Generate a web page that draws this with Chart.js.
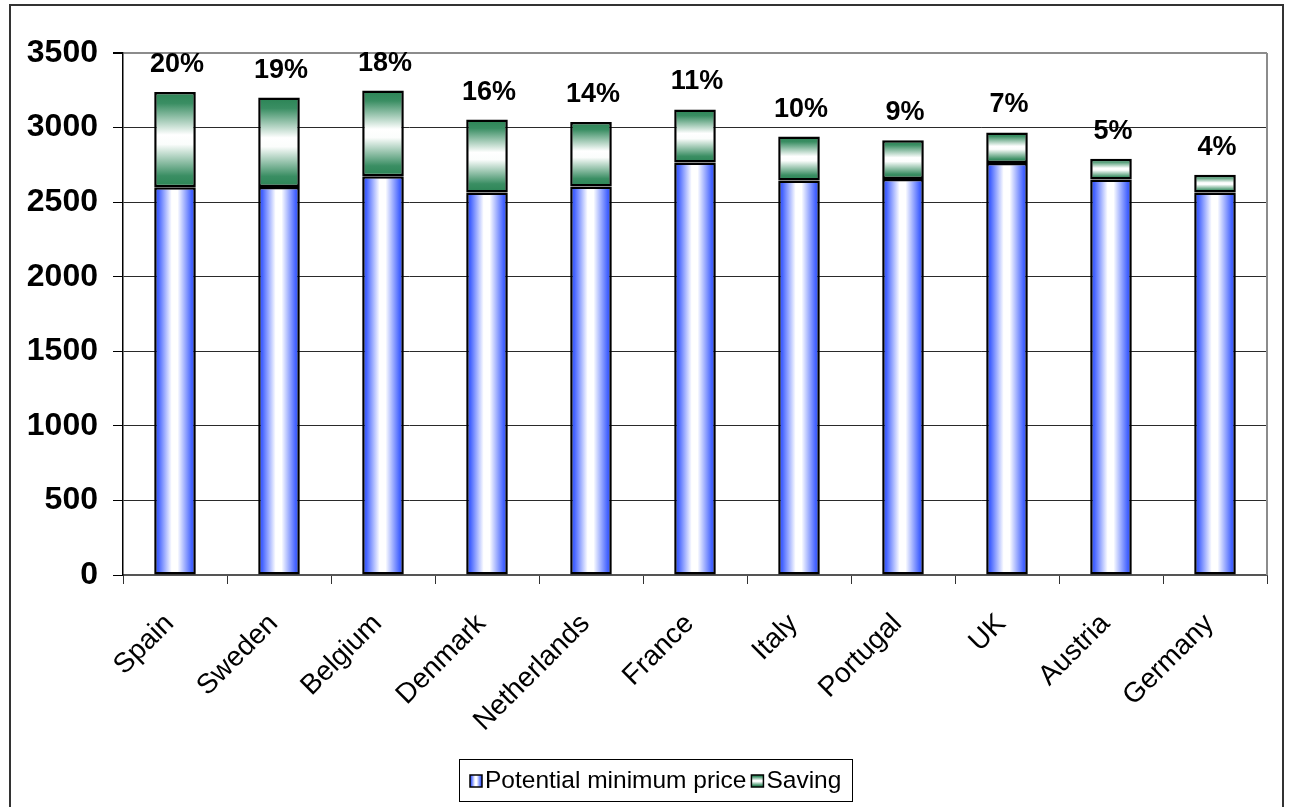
<!DOCTYPE html>
<html>
<head>
<meta charset="utf-8">
<script src="https://cdn.jsdelivr.net/npm/chart.js@4/dist/chart.umd.min.js"></script>
<style>
  html, body { margin: 0; padding: 0; background: #fff; }
  canvas { display: block; }
</style>
</head>
<body>
<canvas id="chart" width="1290" height="807"></canvas>
<script>
// Countries along the x axis
const countries = ['Spain', 'Sweden', 'Belgium', 'Denmark', 'Netherlands', 'France', 'Italy', 'Portugal', 'UK', 'Austria', 'Germany'];
// Lower stack: potential minimum price
const minimumPrice = [2600, 2602, 2674, 2564, 2605, 2765, 2645, 2656, 2763, 2652, 2565];
// Upper stack: saving on top of the minimum price
const saving = [639, 599, 574, 490, 433, 357, 295, 259, 204, 139, 118];
// Value axis range and step
const yMin = 0;
const yMax = 3500;
const yStep = 500;
const seriesNames = ['Potential minimum price', 'Saving'];

const FONT = "'Liberation Sans', Arial, sans-serif";
const BLUE = '#2f50ff';
const GREEN = '#2b8455';

// Saving as a share of the full price, rounded to whole percent
const savingShare = saving.map((s, i) => Math.round(s / (minimumPrice[i] + s) * 100) + '%');

function blueGradient(ctx, x0, x1) {
  const g = ctx.createLinearGradient(x0, 0, x1, 0);
  g.addColorStop(0, BLUE);
  g.addColorStop(0.1, '#4463ff');
  g.addColorStop(0.42, '#ffffff');
  g.addColorStop(0.56, '#ffffff');
  g.addColorStop(0.9, '#4463ff');
  g.addColorStop(1, BLUE);
  return g;
}

function greenGradient(ctx, y0, y1) {
  const g = ctx.createLinearGradient(0, y0, 0, y1);
  g.addColorStop(0, GREEN);
  g.addColorStop(0.12, '#3a8e63');
  g.addColorStop(0.45, '#ffffff');
  g.addColorStop(0.55, '#fbfdfc');
  g.addColorStop(0.88, '#3a8e63');
  g.addColorStop(1, GREEN);
  return g;
}

const BAR_SHARE = 0.4;

function barHalfWidth(chart) {
  const xs = chart.scales.x;
  return xs.width / countries.length * BAR_SHARE / 2;
}

// White page, outer frame and the right frame of the plot area
const framePlugin = {
  id: 'frame',
  beforeDraw(chart) {
    const ctx = chart.ctx;
    ctx.save();
    ctx.fillStyle = '#ffffff';
    ctx.fillRect(0, 0, chart.width, chart.height);
    ctx.restore();
  },
  afterDraw(chart) {
    const ctx = chart.ctx;
    const a = chart.chartArea;
    ctx.save();
    ctx.strokeStyle = '#8c8c8c';
    ctx.lineWidth = 2;
    ctx.beginPath();
    ctx.moveTo(a.right, a.top);
    ctx.lineTo(a.right, a.bottom);
    ctx.stroke();
    ctx.strokeStyle = '#333333';
    ctx.lineWidth = 2;
    ctx.strokeRect(10, 5, 1273, 806);
    ctx.restore();
  }
};

// Percent labels above each stacked bar
const shareLabels = {
  id: 'shareLabels',
  afterDatasetsDraw(chart) {
    const ctx = chart.ctx;
    const meta = chart.getDatasetMeta(1);
    ctx.save();
    ctx.font = 'bold 27px ' + FONT;
    ctx.fillStyle = '#000';
    ctx.textAlign = 'center';
    ctx.textBaseline = 'alphabetic';
    meta.data.forEach((bar, i) => {
      ctx.fillText(savingShare[i], bar.x + 2, bar.y - 20);
    });
    ctx.restore();
  }
};

// Boxed legend under the axis labels
const boxedLegend = {
  id: 'boxedLegend',
  afterDraw(chart) {
    const ctx = chart.ctx;
    ctx.save();
    ctx.font = '24.5px ' + FONT;
    const box = { left: 459.5, top: 759.5, width: 393, height: 42 };
    const sq = 12;
    const gap = 3;
    const itemGap = 5;
    const widths = seriesNames.map(n => ctx.measureText(n).width);
    const content = widths.reduce((s, w) => s + sq + gap + w, 0) + itemGap;
    ctx.fillStyle = '#fff';
    ctx.fillRect(box.left, box.top, box.width, box.height);
    ctx.strokeStyle = '#000';
    ctx.lineWidth = 1;
    ctx.strokeRect(box.left, box.top, box.width, box.height);
    const midY = box.top + box.height / 2;
    let x = Math.round(box.left + (box.width - content) / 2);
    seriesNames.forEach((name, i) => {
      const sx = x, sy = Math.round(midY - sq / 2);
      ctx.fillStyle = i === 0 ? blueGradient(ctx, sx, sx + sq) : greenGradient(ctx, sy, sy + sq);
      ctx.fillRect(sx, sy, sq, sq);
      ctx.strokeStyle = '#000';
      ctx.lineWidth = 1.5;
      ctx.strokeRect(sx, sy, sq, sq);
      ctx.fillStyle = '#000';
      ctx.textAlign = 'left';
      ctx.textBaseline = 'middle';
      ctx.fillText(name, sx + sq + gap, midY + 1);
      x += sq + gap + widths[i] + itemGap;
    });
    ctx.restore();
  }
};

new Chart(document.getElementById('chart'), {
  type: 'bar',
  data: {
    labels: countries,
    datasets: [
      {
        label: seriesNames[0],
        data: minimumPrice,
        backgroundColor: (c) => {
          const chart = c.chart;
          if (c.type !== 'data' || !chart.chartArea) return BLUE;
          const cx = chart.scales.x.getPixelForValue(c.dataIndex);
          const h = barHalfWidth(chart);
          return blueGradient(chart.ctx, cx - h, cx + h);
        },
        borderColor: '#000',
        borderWidth: 2.5,
        borderSkipped: false
      },
      {
        label: seriesNames[1],
        data: saving,
        backgroundColor: (c) => {
          const chart = c.chart;
          if (c.type !== 'data' || !chart.chartArea) return GREEN;
          const i = c.dataIndex;
          const ys = chart.scales.y;
          const y0 = ys.getPixelForValue(minimumPrice[i] + saving[i]);
          const y1 = ys.getPixelForValue(minimumPrice[i]);
          return greenGradient(chart.ctx, y0, y1);
        },
        borderColor: '#000',
        borderWidth: 2.5,
        borderSkipped: false
      }
    ]
  },
  options: {
    responsive: false,
    animation: false,
    categoryPercentage: 1,
    barPercentage: BAR_SHARE,
    layout: { padding: { left: 20, right: 23, top: 53, bottom: 52 } },
    plugins: {
      legend: { display: false },
      tooltip: { enabled: false }
    },
    scales: {
      x: {
        stacked: true,
        afterFit(scale) { scale.height = 180; },
        grid: {
          offset: true,
          drawOnChartArea: false,
          drawTicks: true,
          tickLength: 9,
          color: '#333',
          lineWidth: 1
        },
        border: { color: '#555', width: 2 },
        ticks: {
          autoSkip: false,
          minRotation: 45,
          maxRotation: 45,
          padding: 18,
          color: '#000',
          font: { family: FONT, size: 28 },
          // a trailing space keeps the rotated text just short of the tick
          callback: (v, i) => countries[i] + ' '
        }
      },
      y: {
        stacked: true,
        min: yMin,
        max: yMax,
        afterFit(scale) { scale.width = 103; },
        grid: {
          color: (c) => (c.tick && c.tick.value === yMax) ? '#8c8c8c' : '#2a2a2a',
          lineWidth: (c) => (c.tick && c.tick.value === yMax) ? 2 : 1,
          tickColor: '#000',
          tickLength: 10
        },
        border: { color: '#000', width: 1.5 },
        ticks: {
          stepSize: yStep,
          padding: 15,
          color: '#000',
          font: { family: FONT, size: 32, weight: 'bold' },
          callback: (v) => String(v)
        }
      }
    }
  },
  plugins: [framePlugin, shareLabels, boxedLegend]
});
</script>
</body>
</html>
